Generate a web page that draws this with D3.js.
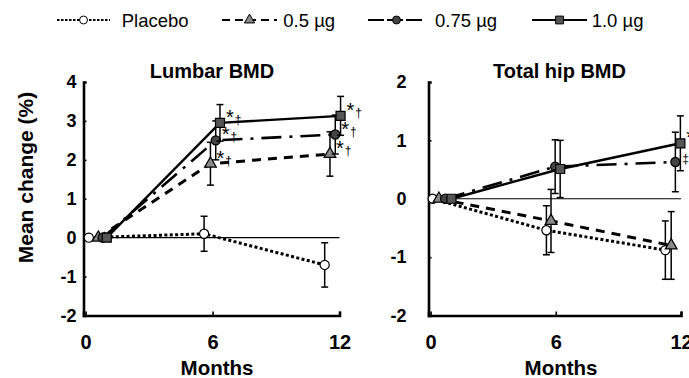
<!DOCTYPE html>
<html>
<head>
<meta charset="utf-8">
<script src="https://cdn.jsdelivr.net/npm/d3@7"></script>
<style>
  body { margin: 0; background: #fff; }
  svg { display: block; font-family: "Liberation Sans", Arial, sans-serif; }
</style>
</head>
<body>
<svg width="689" height="378"></svg>
<script>
// groups, in legend order
const groups = ["Placebo", "0.5 µg", "0.75 µg", "1.0 µg"];

// lumbar BMD: plotted month (groups are nudged apart), mean change %, error half-width
const lumbarMonths = [[0.15, 5.6, 11.3], [0.6, 5.9, 11.55], [0.8, 6.15, 11.8], [1.0, 6.35, 12.05]];
const lumbarMean = [[0, 0.1, -0.7], [0, 1.9, 2.15], [0, 2.5, 2.65], [0, 2.95, 3.13]];
const lumbarErr = [[0, 0.45, 0.57], [0, 0.55, 0.57], [0, 0.5, 0.5], [0, 0.47, 0.5]];
const lumbarMarks = [["", "", ""], ["", "*†", "*†"], ["", "*†", "*†"], ["", "*†", "*†"]];
const lumbarTicks = [-2, -1, 0, 1, 2, 3, 4];

// total hip BMD
const hipMonths = [[0.1, 5.55, 11.25], [0.4, 5.77, 11.53], [0.7, 5.97, 11.73], [1.0, 6.21, 11.97]];
const hipMean = [[0, -0.54, -0.88], [0, -0.38, -0.8], [0, 0.55, 0.63], [0, 0.51, 0.95]];
const hipErr = [[0, 0.42, 0.5], [0, 0.54, 0.58], [0, 0.46, 0.51], [0, 0.49, 0.47]];
const hipMarks = [["", "", ""], ["", "", ""], ["", "", "‡"], ["", "", "*†"]];
const hipTicks = [-2, -1, 0, 1, 2];

const monthTicks = [0, 6, 12];

let svg = d3.select("svg");

// line + marker look for each group
let styles = [
  { dash: "3,2.4", width: 3, symbol: d3.symbolCircle, size: 66, fill: "#fff", legDash: "2.5,1.5" },
  { dash: "9,7", width: 3, symbol: d3.symbolTriangle, size: 60, fill: "#888", legDash: "8,5" },
  { dash: "20,8,3,8", width: 2.6, symbol: d3.symbolCircle, size: 66, fill: "#444", legDash: "16,3" },
  { dash: null, width: 2.4, symbol: d3.symbolSquare, size: 81, fill: "#555", legDash: null },
];

let panels = [
  {
    title: "Lumbar BMD", months: lumbarMonths, mean: lumbarMean, err: lumbarErr, marks: lumbarMarks,
    yDomain: [-2, 4], yTicks: lumbarTicks, left: 83.5, right: 339.5, labelPad: 7, titleX: 212, monthsX: 217,
  },
  {
    title: "Total hip BMD", months: hipMonths, mean: hipMean, err: hipErr, marks: hipMarks,
    yDomain: [-2, 2], yTicks: hipTicks, left: 428.5, right: 681, labelPad: 22, titleX: 559.5, monthsX: 561,
  },
];

let plotTop = 82;
let plotBottom = 315.5;

let drawPanel = (p) => {
  let x = d3.scaleLinear().domain([-0.1, 12]).range([p.left, p.right]);
  let y = d3.scaleLinear().domain(p.yDomain).range([plotBottom, plotTop]);
  let g = svg.append("g");

  // zero reference line
  g.append("line")
    .attr("x1", p.left).attr("x2", p.right)
    .attr("y1", y(0)).attr("y2", y(0))
    .attr("stroke", "#000").attr("stroke-width", 1.2);

  let yAxis = g.append("g")
    .attr("transform", `translate(${p.left},0)`)
    .call(d3.axisLeft(y).tickValues(p.yTicks).tickFormat((d) => String(d))
      .tickSizeInner(-3).tickSizeOuter(-3).tickPadding(p.labelPad));
  let xAxis = g.append("g")
    .attr("transform", `translate(0,${plotBottom})`)
    .call(d3.axisBottom(x).tickValues(monthTicks)
      .tickSizeInner(-4).tickSizeOuter(-4).tickPadding(19));

  [yAxis, xAxis].forEach((a) => {
    a.select(".domain").attr("stroke-width", 2.6);
    a.selectAll(".tick line").attr("stroke-width", 1.6);
    a.selectAll("text").attr("fill", "#000").attr("font-weight", "bold");
  });
  yAxis.selectAll("text").attr("font-size", 18);
  xAxis.selectAll("text").attr("font-size", 20);

  g.append("text")
    .attr("x", p.titleX).attr("y", 78)
    .attr("text-anchor", "middle").attr("font-size", 20).attr("font-weight", "bold")
    .text(p.title);
  g.append("text")
    .attr("x", p.monthsX).attr("y", 375)
    .attr("text-anchor", "middle").attr("font-size", 20.5).attr("font-weight", "bold")
    .text("Months");

  let line = d3.line().x((d) => x(d.m)).y((d) => y(d.v));

  groups.forEach((name, i) => {
    let pts = p.months[i].map((m, j) => ({ m: m, v: p.mean[i][j], e: p.err[i][j], mark: p.marks[i][j] }));
    let st = styles[i];

    // error bars
    let bars = g.append("g").selectAll("g")
      .data(pts.filter((d) => d.e > 0))
      .enter().append("g")
      .attr("stroke", "#000").attr("stroke-width", 1.5);
    bars.append("line")
      .attr("x1", (d) => x(d.m)).attr("x2", (d) => x(d.m))
      .attr("y1", (d) => y(d.v - d.e)).attr("y2", (d) => y(d.v + d.e));
    bars.append("line")
      .attr("x1", (d) => x(d.m) - 3.5).attr("x2", (d) => x(d.m) + 3.5)
      .attr("y1", (d) => y(d.v + d.e)).attr("y2", (d) => y(d.v + d.e));
    bars.append("line")
      .attr("x1", (d) => x(d.m) - 3.5).attr("x2", (d) => x(d.m) + 3.5)
      .attr("y1", (d) => y(d.v - d.e)).attr("y2", (d) => y(d.v - d.e));

    g.append("path")
      .datum(pts)
      .attr("d", line)
      .attr("fill", "none")
      .attr("stroke", "#000")
      .attr("stroke-width", st.width)
      .attr("stroke-dasharray", st.dash);

    g.append("g").selectAll("path")
      .data(pts)
      .enter().append("path")
      .attr("transform", (d) => `translate(${x(d.m)},${y(d.v)})`)
      .attr("d", d3.symbol().type(st.symbol).size(st.size))
      .attr("fill", st.fill)
      .attr("stroke", "#000")
      .attr("stroke-width", 1.2);

    // significance marks
    let marks = g.append("g").selectAll("text")
      .data(pts.filter((d) => d.mark))
      .enter().append("text")
      .attr("x", (d) => x(d.m) + 6)
      .attr("y", (d) => y(d.v) + 1)
      .attr("fill", "#000");
    marks.each(function (d) {
      let t = d3.select(this);
      d.mark.split("").forEach((c) => {
        t.append("tspan")
          .attr("font-size", c === "*" ? 20 : 12)
          .attr("dx", c === "*" ? 0 : 1)
          .text(c);
      });
    });
  });
};

panels.forEach(drawPanel);

// y axis title
svg.append("text")
  .attr("transform", "translate(33,177.5) rotate(-90)")
  .attr("text-anchor", "middle")
  .attr("font-size", 21)
  .attr("font-weight", "bold")
  .text("Mean change (%)");

// legend
let legendItems = [
  { x1: 57, x2: 110, tx: 121.7 },
  { x1: 222, x2: 277, tx: 283.3 },
  { x1: 368, x2: 425, tx: 435 },
  { x1: 532, x2: 587, tx: 591.7 },
];
let legend = svg.append("g");
groups.forEach((name, i) => {
  let it = legendItems[i];
  let st = styles[i];
  legend.append("line")
    .attr("x1", it.x1).attr("x2", it.x2).attr("y1", 20).attr("y2", 20)
    .attr("stroke", "#000").attr("stroke-width", 2.2)
    .attr("stroke-dasharray", st.legDash);
  legend.append("path")
    .attr("transform", `translate(${(it.x1 + it.x2) / 2},20)`)
    .attr("d", d3.symbol().type(st.symbol).size(st.size * 0.75))
    .attr("fill", st.fill).attr("stroke", "#000").attr("stroke-width", 1);
  legend.append("text")
    .attr("x", it.tx).attr("y", 27)
    .attr("font-size", 18.5)
    .text(name);
});
</script>
</body>
</html>
